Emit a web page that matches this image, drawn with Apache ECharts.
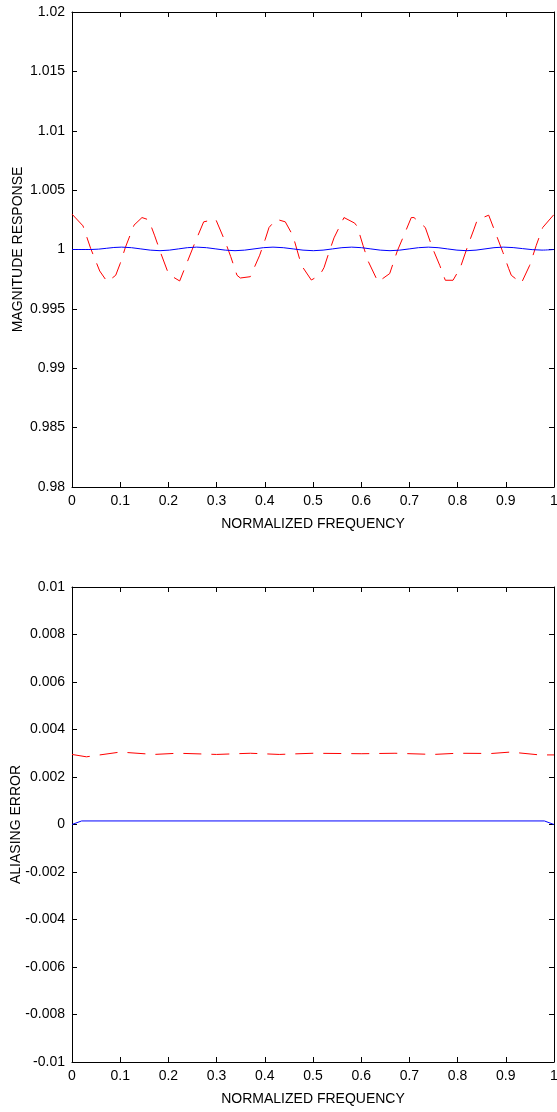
<!DOCTYPE html>
<html>
<head>
<meta charset="utf-8">
<script src="https://cdn.jsdelivr.net/npm/echarts@6/dist/echarts.min.js"></script>
<style>
html,body{margin:0;padding:0;background:#fff;}
#c{width:557px;height:1112px;}
</style>
</head>
<body>
<div id="c"></div>
<script>
// ---- Top panel: magnitude response ----
const magRedFreq = [0.000,0.0228,0.0388,0.0575,0.0732,0.0907,0.1002,0.1106,0.1286,0.1452,0.1591,0.1716,0.1832,0.2006,0.2234,0.2546,0.2732,0.2981,0.3181,0.3293,0.3423,0.3492,0.3699,0.3894,0.4010,0.4087,0.4239,0.4425,0.4585,0.4724,0.4793,0.4965,0.5139,0.5228,0.5326,0.5436,0.5643,0.5865,0.5919,0.6037,0.6141,0.6349,0.6591,0.6749,0.6882,0.7039,0.7095,0.7330,0.7475,0.7629,0.7745,0.7905,0.8056,0.8216,0.8334,0.8409,0.8645,0.8770,0.8942,0.9060,0.9114,0.9322,0.9496,0.9633,0.9765,1.000];
const magRedVal = [1.00298,1.00199,1.00008,0.99819,0.99727,0.99783,0.99884,1.00016,1.00205,1.00269,1.00250,1.00115,0.99980,0.99791,0.99735,1.00053,1.00233,1.00255,1.00064,0.99940,0.99783,0.99760,0.99771,0.99952,1.00087,1.00185,1.00255,1.00233,1.00115,0.99918,0.99847,0.99743,0.99783,0.99847,0.99969,1.00098,1.00269,1.00222,1.00193,1.00036,0.99904,0.99727,0.99797,0.99988,1.00115,1.00269,1.00269,1.00185,1.00016,0.99867,0.99741,0.99741,0.99847,1.00036,1.00165,1.00250,1.00289,1.00157,0.99974,0.99839,0.99783,0.99716,0.99867,1.00036,1.00185,1.00295];
const magBlueFreq = [0.000,0.0390,0.1031,0.1826,0.2587,0.3382,0.4170,0.5006,0.5803,0.6598,0.7392,0.8189,0.8948,0.9751,1.000];
const magBlueVal = [1.00000,1.00000,1.00020,0.99990,1.00020,0.99990,1.00020,0.99990,1.00020,0.99990,1.00020,0.99990,1.00020,0.99995,1.00000];

// ---- Bottom panel: aliasing error ----
const errRedFreq = [0.00,0.03,0.10,0.17,0.22,0.30,0.37,0.43,0.50,0.60,0.67,0.75,0.80,0.87,0.91,0.97,1.00];
const errRedVal = [0.00295,0.00285,0.00305,0.00295,0.00300,0.00295,0.00300,0.00295,0.00300,0.00298,0.00300,0.00295,0.00300,0.00299,0.00305,0.00293,0.00293];
const errBlueFreq = [0.00,0.02,0.98,1.00];
const errBlueVal = [0.00000,0.00015,0.00015,0.00000];

// tick settings
const xTicks = {min:0, max:1, interval:0.1};
const magTicks = {min:0.98, max:1.02, interval:0.005};
const errTicks = {min:-0.01, max:0.01, interval:0.002};
const xTitle = 'NORMALIZED FREQUENCY';
const magTitle = 'MAGNITUDE RESPONSE';
const errTitle = 'ALIASING ERROR';

const zip = (a,b) => a.map((v,i)=>[v,b[i]]);
const FONT = 'Liberation Sans';
const txt = {color:'#000', fontFamily:FONT, fontSize:14};
const axLine = {show:true, onZero:false, lineStyle:{color:'#000', width:1}};
const tick = {show:true, inside:true, length:5, lineStyle:{color:'#000'}};

function fmt(v){ return String(parseFloat(v.toFixed(4))); }

function xAxes(grid){
  return [
    {type:'value', gridIndex:grid, ...xTicks, position:'bottom',
     name:xTitle, nameLocation:'middle', nameGap:30, nameTextStyle:txt, nameMoveOverlap:false,
     axisLine:axLine, axisTick:tick, splitLine:{show:false},
     axisLabel:{...txt, margin:7, formatter:fmt}},
    {type:'value', gridIndex:grid, ...xTicks, position:'top',
     axisLine:axLine, axisTick:tick, splitLine:{show:false}, axisLabel:{show:false}}
  ];
}
function yAxes(grid, t, name, gap){
  return [
    {type:'value', gridIndex:grid, ...t, position:'left',
     name:name, nameLocation:'middle', nameGap:gap, nameTextStyle:txt, nameMoveOverlap:false,
     axisLine:axLine, axisTick:tick, splitLine:{show:false},
     axisLabel:{...txt, margin:7, formatter:fmt}},
    {type:'value', gridIndex:grid, ...t, position:'right',
     axisLine:axLine, axisTick:tick, splitLine:{show:false}, axisLabel:{show:false}}
  ];
}

const chart = echarts.init(document.getElementById('c'), null, {renderer:'canvas'});
chart.setOption({
  backgroundColor:'#fff',
  animation:false,
  grid:[
    {left:72, right:3, top:12, height:475, outerBoundsMode:'none', containLabel:false},
    {left:72, right:3, top:587, height:475, outerBoundsMode:'none', containLabel:false}
  ],
  xAxis:[...xAxes(0), ...xAxes(1)],
  yAxis:[...yAxes(0, magTicks, magTitle, 47), ...yAxes(1, errTicks, errTitle, 49)],
  series:[
    {type:'line', xAxisIndex:0, yAxisIndex:0, data:zip(magRedFreq, magRedVal), symbol:'none',
     lineStyle:{color:'#ff0000', width:1, type:[18,10]}},
    {type:'line', xAxisIndex:0, yAxisIndex:0, data:zip(magBlueFreq, magBlueVal), symbol:'none', smooth:0.35,
     lineStyle:{color:'#0000ff', width:1}},
    {type:'line', xAxisIndex:2, yAxisIndex:2, data:zip(errRedFreq, errRedVal), symbol:'none',
     lineStyle:{color:'#ff0000', width:1, type:[18,10]}},
    {type:'line', xAxisIndex:2, yAxisIndex:2, data:zip(errBlueFreq, errBlueVal), symbol:'none',
     lineStyle:{color:'#0000ff', width:1}}
  ]
});
</script>
</body>
</html>
